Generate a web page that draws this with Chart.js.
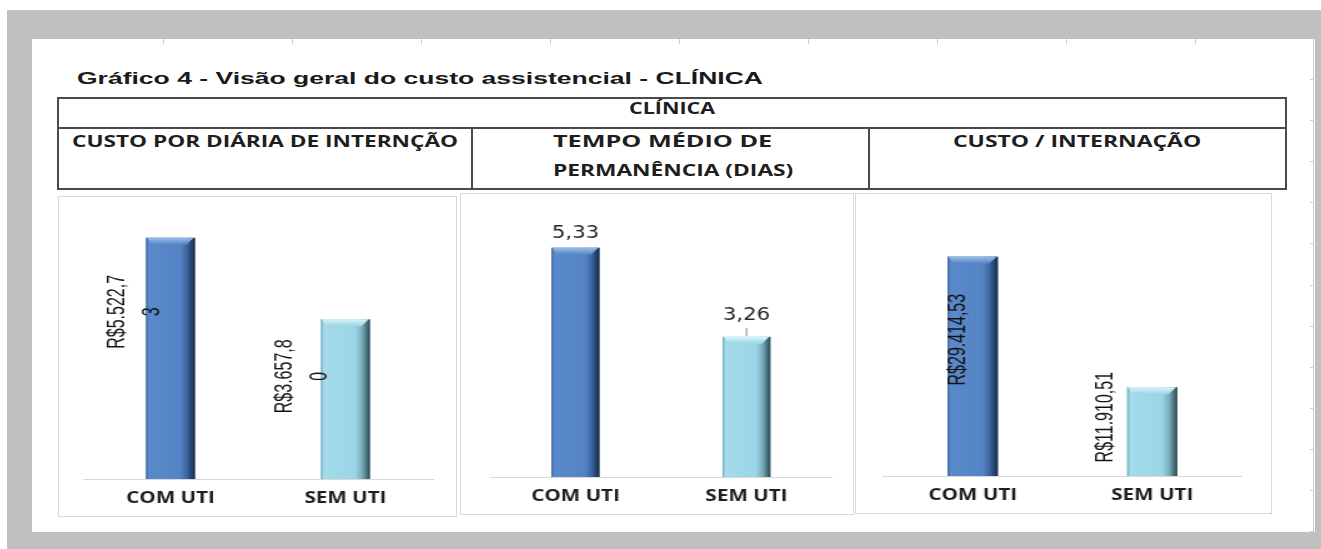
<!DOCTYPE html>
<html lang="pt-BR">
<head>
<meta charset="UTF-8">
<title>Gráfico 4 - Visão geral do custo assistencial - CLÍNICA</title>
<script src="https://cdn.jsdelivr.net/npm/chart.js"></script>
<style>
  body { margin: 0; width: 1321px; height: 549px; position: relative; overflow: hidden; background: #fff; }
  .abs { position: absolute; }
  #frame { left: 7px; top: 10px; width: 1314px; height: 539px; background: #c0c0c0; }
  #sheet { left: 32px; top: 39px; width: 1283px; height: 493px; background: #fff; }
  .tick { background: #cfcfcf; }
  .tbl { border: 2px solid #4a4a4a; box-sizing: border-box; }
  .line { background: #4a4a4a; }
  .txt { white-space: nowrap; transform-origin: 0 0; color: #1a1a1a; }
  .title { font: bold 16.5px "Liberation Sans", Arial, sans-serif; line-height: 16px; }
  .head { font: 700 16px "Open Sans", sans-serif; line-height: 16px; color: #1e1e1e; }
  .panel { border: 1px solid #d9d9d9; box-sizing: border-box; background: #fff; }
  .chartbox { transform-origin: 0 0; transform: scaleX(1.25); }
</style>
</head>
<body>

<div id="frame" class="abs"></div>
<div id="sheet" class="abs"></div>
<div id="ticks"></div>

<span class="abs txt title" data-x="77" data-y="70" data-w="686">Gráfico 4 - Visão geral do custo assistencial - CLÍNICA</span>

<div class="abs tbl" style="left:57px; top:97px; width:1230px; height:93px;"></div>
<div class="abs line" style="left:57px; top:127px; width:1230px; height:2px;"></div>
<div class="abs line" style="left:471px; top:127px; width:2px; height:62px;"></div>
<div class="abs line" style="left:868px; top:127px; width:2px; height:62px;"></div>

<span class="abs txt head" data-cx="672" data-y="100" data-w="86">CLÍNICA</span>
<span class="abs txt head" data-x="72" data-y="132.5" data-w="386">CUSTO POR DIÁRIA DE INTERNÇÃO</span>
<span class="abs txt head" data-x="553" data-y="132.5" data-w="219">TEMPO MÉDIO DE</span>
<span class="abs txt head" data-x="553" data-y="161.5" data-w="240">PERMANÊNCIA (DIAS)</span>
<span class="abs txt head" data-cx="1077" data-y="132.5" data-w="248">CUSTO / INTERNAÇÃO</span>

<div class="abs panel" style="left:58px; top:196px; width:399px; height:321px;"></div>
<div class="abs panel" style="left:460px; top:193px; width:394px; height:322px;"></div>
<div class="abs panel" style="left:855px; top:193px; width:417px; height:321px;"></div>

<div class="abs chartbox" style="left:58px; top:196px; width:319px; height:321px;"><canvas id="c1"></canvas></div>
<div class="abs chartbox" style="left:460px; top:193px; width:315px; height:322px;"><canvas id="c2"></canvas></div>
<div class="abs chartbox" style="left:855px; top:193px; width:334px; height:321px;"><canvas id="c3"></canvas></div>

<script>
    const categories = ['COM UTI', 'SEM UTI'];
    const custoDiaria = [5522.73, 3657.80];
    const tempoMedio = [5.33, 3.26];
    const custoInternacao = [29414.53, 11910.51];
    const axisMax = [6000, 6, 35000];
    const barColors = ['#4F81BD', '#9BD5E5'];

    // spreadsheet grid marks round the sheet
    const ticks = document.getElementById('ticks');
    for (let x = 163; x < 1300; x += 129) {
        ticks.insertAdjacentHTML('beforeend', `<div class="abs tick" style="left:${x}px; top:39px; width:1px; height:5px;"></div>`);
    }
    for (let y = 79; y < 535; y += 41.1) {
        ticks.insertAdjacentHTML('beforeend', `<div class="abs tick" style="left:1310px; top:${Math.round(y)}px; width:4px; height:1px;"></div>`);
    }
    ticks.insertAdjacentHTML('beforeend', '<div class="abs tick" style="left:1313px; top:39px; width:1px; height:493px;"></div>');

    function fitTexts() {
        document.querySelectorAll('.txt').forEach(el => {
            el.style.transform = 'none';
            const w = +el.dataset.w;
            const k = w / el.offsetWidth;
            const left = el.dataset.cx ? +el.dataset.cx - w / 2 : +el.dataset.x;
            el.style.left = left + 'px';
            el.style.top = el.dataset.y + 'px';
            el.style.transform = `scaleX(${k})`;
        });
    }
    fitTexts();
    document.fonts.ready.then(fitTexts);

    function brl(v) {
        const [i, d] = v.toFixed(2).split('.');
        return 'R$' + i.replace(/\B(?=(\d{3})+(?!\d))/g, '.') + ',' + d;
    }
    function dec(v) {
        return v.toFixed(2).replace('.', ',');
    }

    const palettes = [
        { stops: ['#3f679d', '#5a8acb', '#5484c4', '#3b639e', '#182842'], cap: '#9abde9' },
        { stops: ['#72a9b7', '#a3dbea', '#9bd5e5', '#76abba', '#2a464d'], cap: '#d8f4fb' }
    ];

    const bevel = {
        id: 'bevel',
        afterDatasetsDraw(chart) {
            const ctx = chart.ctx;
            chart.getDatasetMeta(0).data.forEach((bar, i) => {
                const p = palettes[i % palettes.length];
                const w = bar.width, l = bar.x - w / 2, t = bar.y, h = bar.base - bar.y;
                const g = ctx.createLinearGradient(l, 0, l + w, 0);
                [0, 0.06, 0.7, 0.84, 1].forEach((s, k) => g.addColorStop(s, p.stops[k]));
                ctx.save();
                ctx.fillStyle = g;
                ctx.fillRect(l, t, w, h);
                const c = Math.min(7, h / 4);
                const vg = ctx.createLinearGradient(0, t, 0, t + c);
                vg.addColorStop(0, p.cap);
                vg.addColorStop(1, p.stops[2]);
                ctx.fillStyle = vg;
                ctx.beginPath();
                ctx.moveTo(l + 1, t);
                ctx.lineTo(l + w - 1, t);
                ctx.lineTo(l + w * 0.82, t + c);
                ctx.lineTo(l + w * 0.1, t + c);
                ctx.closePath();
                ctx.fill();
                ctx.restore();
            });
        }
    };

    const barLabels = {
        id: 'barLabels',
        afterDatasetsDraw(chart, args, o) {
            const ctx = chart.ctx;
            const values = chart.data.datasets[0].data;
            chart.getDatasetMeta(0).data.forEach((bar, i) => {
                const lines = o.lines(values[i]);
                const off = o.offsets[i];
                ctx.save();
                ctx.fillStyle = o.color;
                ctx.font = o.font;
                ctx.textAlign = 'center';
                ctx.textBaseline = 'middle';
                if (o.rotated) {
                    lines.forEach((t, j) => {
                        ctx.save();
                        ctx.translate(bar.x + off.dx[j], bar.y + off.dy);
                        ctx.rotate(-Math.PI / 2);
                        ctx.scale(1, o.thick);
                        ctx.fillText(t, 0, 0);
                        ctx.restore();
                    });
                } else {
                    ctx.fillText(lines[0], bar.x + off.dx[0], bar.y + off.dy);
                    if (off.leader) {
                        ctx.strokeStyle = '#8a8a8a';
                        ctx.lineWidth = 1;
                        ctx.beginPath();
                        ctx.moveTo(bar.x, bar.y - 9);
                        ctx.lineTo(bar.x, bar.y - 1);
                        ctx.stroke();
                    }
                }
                ctx.restore();
            });
        }
    };

    function makeChart(id, values, max, pad, labelCfg) {
        new Chart(document.getElementById(id), {
            type: 'bar',
            data: {
                labels: categories,
                datasets: [{ data: values, backgroundColor: barColors, barPercentage: 0.28, categoryPercentage: 1 }]
            },
            options: {
                responsive: true,
                maintainAspectRatio: false,
                animation: false,
                layout: { padding: pad },
                plugins: { legend: { display: false }, tooltip: { enabled: false }, barLabels: labelCfg },
                scales: {
                    x: {
                        grid: { display: false, drawTicks: false },
                        border: { display: true, color: '#d9d9d9', width: 1 },
                        ticks: { color: '#1e1e1e', padding: 9, font: { family: '"Open Sans", sans-serif', size: 16.5, weight: 'bold' } },
                        afterFit: s => { s.height = 30; }
                    },
                    y: { display: false, min: 0, max: max }
                }
            },
            plugins: [bevel, barLabels]
        });
    }

    const rotatedFont = '16px "Liberation Sans", Arial, sans-serif';

    makeChart('c1', custoDiaria, axisMax[0], { left: 20, right: 19, top: 21, bottom: 8 }, {
        rotated: true, thick: 1.3, color: '#141414', font: rotatedFont,
        lines: v => { const s = brl(v); return [s.slice(0, 9), s.slice(9)]; },
        offsets: [{ dx: [-43.2, -14.4], dy: 74 }, { dx: [-49.2, -20.4], dy: 57 }]
    });

    makeChart('c2', tempoMedio, axisMax[1], { left: 24, right: 17.4, top: 26, bottom: 8 }, {
        rotated: false, color: '#262626', font: '17px "DejaVu Sans", sans-serif',
        lines: v => [dec(v)],
        offsets: [{ dx: [0], dy: -14 }, { dx: [0], dy: -21, leader: true }]
    });

    makeChart('c3', custoInternacao, axisMax[2], { left: 22.4, right: 24.4, top: 22, bottom: 8 }, {
        rotated: true, thick: 1.3, color: '#141414', font: rotatedFont,
        lines: v => [brl(v)],
        offsets: [{ dx: [-11.6], dy: 83 }, { dx: [-38], dy: 30 }]
    });
</script>

</body>
</html>
